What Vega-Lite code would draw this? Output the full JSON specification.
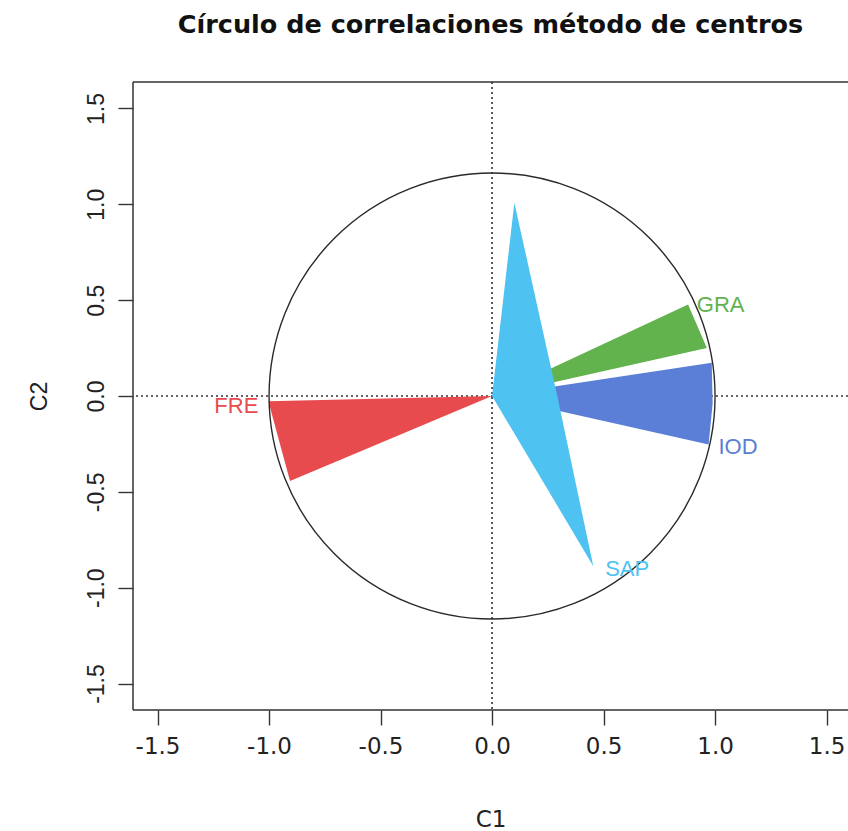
{
  "$schema": "https://vega.github.io/schema/vega-lite/v6.json",
  "width": 715,
  "height": 628,
  "autosize": {"type": "none"},
  "padding": {"left": 133, "top": 82, "right": 0, "bottom": 121},
  "background": "white",
  "config": {
    "view": {"stroke": null},
    "axis": {"grid": false, "domain": false, "ticks": true, "tickColor": "#333333", "tickWidth": 1.4, "tickSize": 15, "labelColor": "#222222", "titleColor": "#222222", "titleFontWeight": "normal", "labelOverlap": false, "labelFlush": false}
  },
  "title": {
    "text": "Círculo de correlaciones método de centros",
    "font": "DejaVu Sans",
    "fontSize": 25.5,
    "fontWeight": "bold",
    "color": "#111111",
    "anchor": "middle",
    "baseline": "alphabetic",
    "offset": 23
  },
  "layer": [
    {
      "data": {"values": [{"x": 0}]},
      "mark": {"type": "rule", "strokeDash": [2, 3], "strokeWidth": 1.6, "color": "#333333"},
      "encoding": {
        "x": {"field": "x", "type": "quantitative", "scale": {"domain": [-1.61, 1.596], "nice": false, "zero": false},
          "axis": {"values": [-1.5, -1, -0.5, 0, 0.5, 1, 1.5], "labelExpr": "datum.value < 0 ? '-' + format(-datum.value, '.1f') : format(datum.value, '.1f')", "title": "C1", "labelFont": "DejaVu Sans", "labelFontSize": 23, "labelBaseline": "alphabetic", "labelPadding": 28, "titleFont": "DejaVu Sans", "titleFontSize": 23, "titleBaseline": "alphabetic", "titleY": 116}}
      }
    },
    {
      "data": {"values": [{"y": 0}]},
      "mark": {"type": "rule", "strokeDash": [2, 3], "strokeWidth": 1.6, "color": "#333333"},
      "encoding": {
        "y": {"field": "y", "type": "quantitative", "scale": {"domain": [-1.638, 1.638], "nice": false, "zero": false},
          "axis": {"values": [-1.5, -1, -0.5, 0, 0.5, 1, 1.5], "labelExpr": "datum.value < 0 ? '-' + format(-datum.value, '.1f') : format(datum.value, '.1f')", "title": "C2", "labelFont": "Liberation Sans", "labelFontSize": 23, "labelAngle": 270, "labelAlign": "center", "labelBaseline": "alphabetic", "labelPadding": 15, "titleFont": "Liberation Sans", "titleFontSize": 23, "titleAngle": 270, "titleBaseline": "alphabetic", "titleX": -87}}
      }
    },
    {
      "data": {"values": [{"x": -1.61}]},
      "mark": {"type": "rule", "strokeWidth": 1.5, "color": "#333333"},
      "encoding": {
        "x": {"field": "x", "type": "quantitative", "scale": {"domain": [-1.61, 1.596], "nice": false, "zero": false}}
      }
    },
    {
      "data": {"values": [{"y": -1.638}, {"y": 1.638}]},
      "mark": {"type": "rule", "strokeWidth": 1.5, "color": "#333333"},
      "encoding": {
        "y": {"field": "y", "type": "quantitative", "scale": {"domain": [-1.638, 1.638], "nice": false, "zero": false}}
      }
    },
    {
      "data": {"values": [
        {"var": "FRE", "i": 1, "x": 0, "y": 0},
        {"var": "FRE", "i": 2, "x": -1.003, "y": -0.027},
        {"var": "FRE", "i": 3, "x": -0.906, "y": -0.444},
        {"var": "GRA", "i": 1, "x": 0, "y": 0},
        {"var": "GRA", "i": 2, "x": 0.879, "y": 0.477},
        {"var": "GRA", "i": 3, "x": 0.963, "y": 0.251},
        {"var": "IOD", "i": 1, "x": 0, "y": 0},
        {"var": "IOD", "i": 2, "x": 0.985, "y": 0.173},
        {"var": "IOD", "i": 3, "x": 0.989, "y": -0.04},
        {"var": "IOD", "i": 4, "x": 0.971, "y": -0.253},
        {"var": "SAP", "i": 1, "x": 0, "y": 0},
        {"var": "SAP", "i": 2, "x": 0.100, "y": 1.008},
        {"var": "SAP", "i": 3, "x": 0.291, "y": 0.008},
        {"var": "SAP", "i": 4, "x": 0.454, "y": -0.888}
      ]},
      "mark": {"type": "line", "interpolate": "linear-closed", "filled": true, "strokeWidth": 0},
      "encoding": {
        "x": {"field": "x", "type": "quantitative", "scale": {"domain": [-1.61, 1.596], "nice": false, "zero": false}},
        "y": {"field": "y", "type": "quantitative", "scale": {"domain": [-1.638, 1.638], "nice": false, "zero": false}},
        "order": {"field": "i"},
        "color": {"field": "var", "type": "nominal", "legend": null,
          "scale": {"domain": ["FRE", "GRA", "IOD", "SAP"], "range": ["#E84B4E", "#62B24D", "#5B7ED6", "#4EC2F1"]}}
      }
    },
    {
      "data": {"values": [{"x": 0, "y": 0}]},
      "mark": {"type": "point", "shape": "circle", "filled": false, "size": 198916, "stroke": "#2a2a2a", "strokeWidth": 1.4, "opacity": 1},
      "encoding": {
        "x": {"field": "x", "type": "quantitative", "scale": {"domain": [-1.61, 1.596], "nice": false, "zero": false}},
        "y": {"field": "y", "type": "quantitative", "scale": {"domain": [-1.638, 1.638], "nice": false, "zero": false}}
      }
    },
    {
      "data": {"values": [
        {"var": "FRE", "x": -1.048, "y": -0.089}
      ]},
      "mark": {"type": "text", "align": "right", "baseline": "alphabetic", "font": "Liberation Sans", "fontSize": 22},
      "encoding": {
        "x": {"field": "x", "type": "quantitative", "scale": {"domain": [-1.61, 1.596], "nice": false, "zero": false}},
        "y": {"field": "y", "type": "quantitative", "scale": {"domain": [-1.638, 1.638], "nice": false, "zero": false}},
        "text": {"field": "var"},
        "color": {"field": "var", "type": "nominal", "legend": null}
      }
    },
    {
      "data": {"values": [
        {"var": "GRA", "x": 0.918, "y": 0.436},
        {"var": "IOD", "x": 1.015, "y": -0.303},
        {"var": "SAP", "x": 0.507, "y": -0.939}
      ]},
      "mark": {"type": "text", "align": "left", "baseline": "alphabetic", "font": "Liberation Sans", "fontSize": 22},
      "encoding": {
        "x": {"field": "x", "type": "quantitative", "scale": {"domain": [-1.61, 1.596], "nice": false, "zero": false}},
        "y": {"field": "y", "type": "quantitative", "scale": {"domain": [-1.638, 1.638], "nice": false, "zero": false}},
        "text": {"field": "var"},
        "color": {"field": "var", "type": "nominal", "legend": null}
      }
    }
  ]
}
